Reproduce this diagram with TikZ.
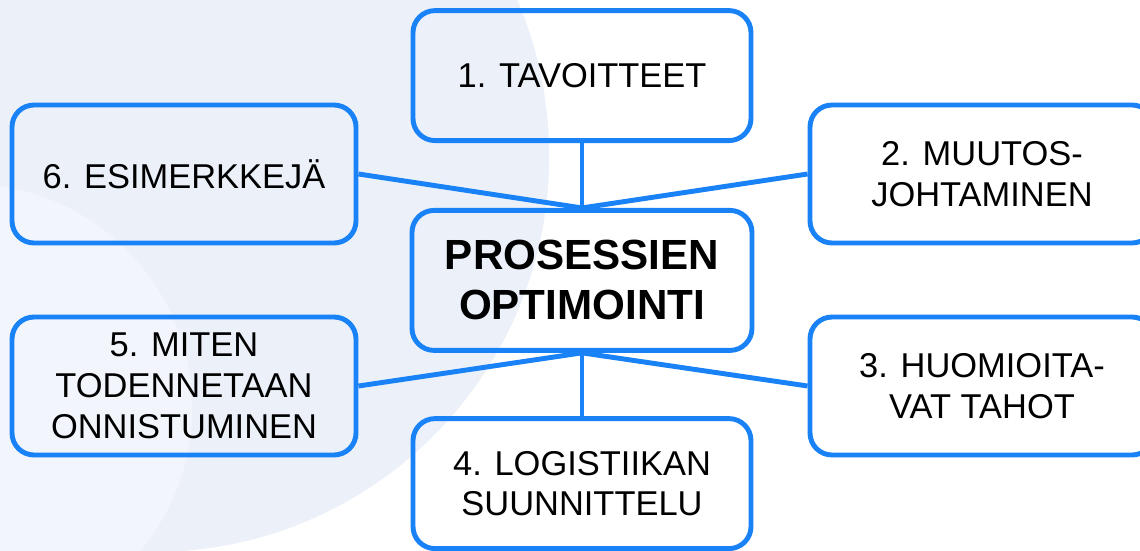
\documentclass[tikz,border=0pt]{standalone}
\usepackage{fontspec}
\setmainfont{Liberation Sans}
\usepackage{tikz}
\definecolor{FrameBlue}{RGB}{26,130,247}
\definecolor{MistBlue}{RGB}{236,241,249}
\definecolor{PaleMist}{RGB}{242,245,251}

\begin{document}
\begin{tikzpicture}[
	line width = 3.5pt,
	topic/.style={draw=FrameBlue,fill=none,rectangle,rounded corners=0.55cm,align=center,inner sep=0pt,
		minimum width=8.45cm,minimum height=3.25cm,font=\fontsize{24.5}{29}\selectfont},
	side/.style={topic,minimum width=8.6cm,minimum height=3.45cm},
	hub/.style={topic,minimum width=8.5cm,minimum height=3.5cm,font=\fontsize{30}{35.5}\selectfont\bfseries},
	link/.style={draw=FrameBlue}]

	\useasboundingbox (0,0) rectangle (28.5,-13.775);
	\clip (0,0) rectangle (28.5,-13.775);
	\fill[white] (0,0) rectangle (28.5,-13.775);
	\fill[MistBlue] (3.83,-3.9) circle (9.9);
	\fill[PaleMist] (-0.8,-10.2) circle (5.6);

	\node [hub] (optim) at (14.55,-7.01) {PROSESSIEN\\OPTIMOINTI};
	\node [topic] (goals) at (14.55,-1.89) {1. TAVOITTEET};
	\node [side] (change) at (24.55,-4.35) {2. MUUTOS-\\JOHTAMINEN};
	\node [side] (parties) at (24.55,-9.65) {3. HUOMIOITA-\\VAT TAHOT};
	\node [topic] (logistics) at (14.55,-12.09) {4. LOGISTIIKAN\\SUUNNITTELU};
	\node [side] (success) at (4.6,-9.65) {5. MITEN\\TODENNETAAN\\ONNISTUMINEN};
	\node [side] (examples) at (4.6,-4.35) {6. ESIMERKKEJÄ};

	\draw [link] (goals.south) -- (optim.north);
	\draw [link] (examples.east) -- (optim.north);
	\draw [link] (change.west) -- (optim.north);
	\draw [link] (logistics.north) -- (optim.south);
	\draw [link] (success.east) -- (optim.south);
	\draw [link] (parties.west) -- (optim.south);

\end{tikzpicture}
\end{document}
